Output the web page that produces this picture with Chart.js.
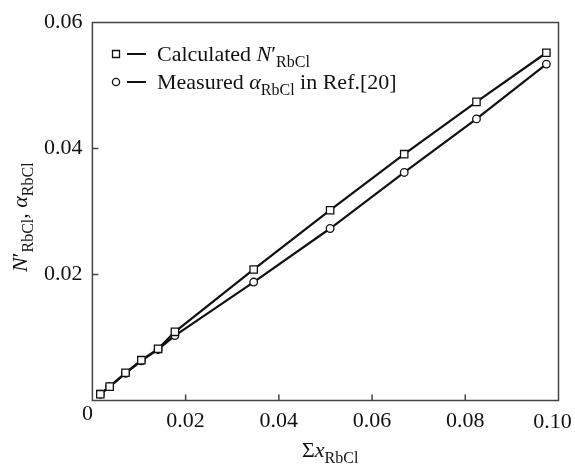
<!DOCTYPE html>
<html>
<head>
<meta charset="utf-8">
<script src="https://cdn.jsdelivr.net/npm/chart.js@4.4.0/dist/chart.umd.min.js"></script>
<style>
  html, body { margin: 0; padding: 0; background: #fff; }
  #wrap { width: 575px; height: 467px; position: relative; }
</style>
</head>
<body>
<div id="wrap"><canvas id="chart"></canvas></div>
<script>
// values
const sumX = [0.0017, 0.0037, 0.0071, 0.0105, 0.0141, 0.0177, 0.0346, 0.0510, 0.0669, 0.0824, 0.0974];
const calculatedN = [0.0010, 0.0022, 0.0044, 0.0064, 0.0082, 0.0109, 0.0208, 0.0302, 0.0391, 0.0474, 0.0552];
const measuredAlpha = [0.0010, 0.0022, 0.0043, 0.0063, 0.0081, 0.0103, 0.0188, 0.0273, 0.0362, 0.0447, 0.0534];
const xTicks = [0.02, 0.04, 0.06, 0.08, 0.10];
const yTicks = [0.02, 0.04, 0.06];

const SERIF = '"Liberation Serif", "Times New Roman", serif';
const INK = '#111';

// draws text pieces: n = normal, i = italic, s = subscript
function drawRich(ctx, x, y, parts) {
  parts.forEach(([txt, st]) => {
    let font = '22px ' + SERIF, dy = 0;
    if (st === 'i') font = 'italic 22px ' + SERIF;
    if (st === 's') { font = '16px ' + SERIF; dy = 6; }
    ctx.font = font;
    ctx.fillText(txt, x, y + dy);
    x += ctx.measureText(txt).width;
  });
}

const decorations = {
  id: 'decorations',
  afterDraw(chart) {
    const ctx = chart.ctx;
    const a = chart.chartArea;
    const xs = chart.scales.x, ys = chart.scales.y;
    ctx.save();

    // frame
    ctx.strokeStyle = '#444';
    ctx.lineWidth = 1.5;
    ctx.strokeRect(a.left, a.top, a.right - a.left, a.bottom - a.top);

    // inward tick marks
    ctx.beginPath();
    xTicks.slice(0, -1).forEach(v => {
      const px = xs.getPixelForValue(v);
      ctx.moveTo(px, a.bottom);
      ctx.lineTo(px, a.bottom - 6);
    });
    yTicks.slice(0, -1).forEach(v => {
      const py = ys.getPixelForValue(v);
      ctx.moveTo(a.left, py);
      ctx.lineTo(a.left + 6, py);
    });
    ctx.stroke();

    ctx.fillStyle = INK;
    ctx.textBaseline = 'alphabetic';

    // corner zero and last x label
    ctx.font = '22px ' + SERIF;
    ctx.textAlign = 'center';
    ctx.fillText('0', a.left - 5, a.bottom + 19);
    ctx.fillText('0.10', xs.getPixelForValue(0.1) - 6, a.bottom + 27);
    ctx.textAlign = 'left';

    // x title
    drawRich(ctx, 302, 457, [['\u03A3', 'n'], ['x', 'i'], ['RbCl', 's']]);

    // y title (rotated)
    ctx.save();
    ctx.translate(27, 272);
    ctx.rotate(-Math.PI / 2);
    drawRich(ctx, 0, 0, [['N', 'i'], ['\u2032', 'n'], ['RbCl', 's'], [', ', 'n'], ['\u03B1', 'i'], ['RbCl', 's']]);
    ctx.restore();

    // legend
    const rows = [
      { y: 54, style: 'rect', parts: [['Calculated ', 'n'], ['N', 'i'], ['\u2032', 'n'], ['RbCl', 's']] },
      { y: 82, style: 'circle', parts: [['Measured ', 'n'], ['\u03B1', 'i'], ['RbCl', 's'], [' in Ref.[20]', 'n']] }
    ];
    rows.forEach(r => {
      ctx.strokeStyle = INK;
      ctx.lineWidth = 2;
      ctx.beginPath();
      ctx.moveTo(127, r.y);
      ctx.lineTo(146, r.y);
      ctx.stroke();
      ctx.lineWidth = 1.3;
      ctx.fillStyle = '#fff';
      ctx.beginPath();
      if (r.style === 'rect') ctx.rect(112.5, r.y - 3.5, 7, 7);
      else ctx.arc(116, r.y, 3.6, 0, Math.PI * 2);
      ctx.fill();
      ctx.stroke();
      ctx.fillStyle = INK;
      drawRich(ctx, 157, r.y + 7, r.parts);
    });

    ctx.restore();
  }
};

new Chart(document.getElementById('chart'), {
  type: 'scatter',
  data: {
    datasets: [
      {
        label: 'Calculated',
        data: sumX.map((x, i) => ({ x: x, y: calculatedN[i] })),
        showLine: true,
        borderColor: INK,
        borderWidth: 2.2,
        pointStyle: 'rect',
        pointRadius: 5.2,
        pointBorderWidth: 1.3,
        pointBackgroundColor: '#fff',
        pointBorderColor: INK
      },
      {
        label: 'Measured',
        data: sumX.map((x, i) => ({ x: x, y: measuredAlpha[i] })),
        showLine: true,
        borderColor: INK,
        borderWidth: 2.2,
        pointStyle: 'circle',
        pointRadius: 3.8,
        pointBorderWidth: 1.3,
        pointBackgroundColor: '#fff',
        pointBorderColor: INK
      }
    ]
  },
  options: {
    responsive: true,
    maintainAspectRatio: false,
    animation: false,
    layout: { padding: { top: 22.5, right: 16.5, left: 0, bottom: 0 } },
    plugins: { legend: { display: false }, tooltip: { enabled: false } },
    scales: {
      x: {
        type: 'linear',
        min: 0,
        max: 0.1,
        grid: { display: false, drawTicks: false },
        border: { display: false },
        ticks: {
          stepSize: 0.02,
          padding: 8,
          color: INK,
          font: { family: SERIF, size: 22 },
          callback: v => (v < 1e-9 || v > 0.099) ? '' : v.toFixed(2)
        },
        afterFit: s => { s.height = 66.5; s.paddingLeft = 0; s.paddingRight = 0; }
      },
      y: {
        type: 'linear',
        min: 0,
        max: 0.06,
        grid: { display: false, drawTicks: false },
        border: { display: false },
        ticks: {
          stepSize: 0.02,
          padding: 10,
          color: INK,
          font: { family: SERIF, size: 22 },
          callback: v => v < 1e-9 ? '' : v.toFixed(2)
        },
        afterFit: s => { s.width = 92.4; s.paddingTop = 0; s.paddingBottom = 0; }
      }
    }
  },
  plugins: [decorations]
});
</script>
</body>
</html>
